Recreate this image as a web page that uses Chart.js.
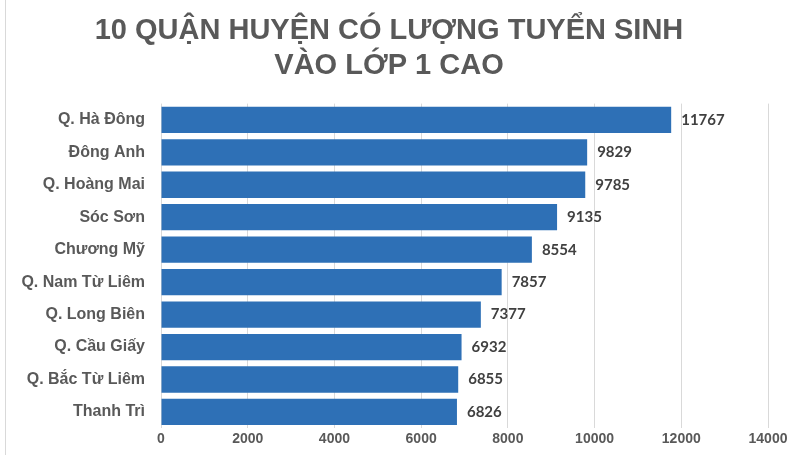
<!DOCTYPE html>
<html>
<head>
<meta charset="utf-8">
<script src="https://cdn.jsdelivr.net/npm/chart.js@4"></script>
<style>
  body { margin: 0; background: #fff; }
  #wrap { width: 809px; height: 455px; position: relative; }
  #wrap:before { content: ""; position: absolute; left: 5px; top: 0; bottom: 0; border-left: 1px solid #d9d9d9; }
</style>
</head>
<body>
<div id="wrap"><canvas id="chart" width="809" height="455"></canvas></div>
<script>
const districts = ["Q. Hà Đông", "Đông Anh", "Q. Hoàng Mai", "Sóc Sơn", "Chương Mỹ",
  "Q. Nam Từ Liêm", "Q. Long Biên", "Q. Cầu Giấy", "Q. Bắc Từ Liêm", "Thanh Trì"];
const students = [11767, 9829, 9785, 9135, 8554, 7857, 7377, 6932, 6855, 6826];
const titleLines = ["10 QUẬN HUYỆN CÓ LƯỢNG TUYỂN SINH", "VÀO LỚP 1 CAO"];

// numbers next to the bars
const valueLabels = {
  id: "valueLabels",
  afterDatasetsDraw(chart) {
    let ctx = chart.ctx;
    let meta = chart.getDatasetMeta(0);
    ctx.save();
    ctx.font = "bold 15px Lato, 'Open Sans', sans-serif";
    ctx.fillStyle = "#404040";
    ctx.textBaseline = "middle";
    meta.data.forEach((bar, i) => {
      ctx.fillText(students[i], bar.x + 10, bar.y);
    });
    ctx.restore();
  }
};

let ctx = document.getElementById("chart").getContext("2d");
const chart = new Chart(ctx, {
  type: "bar",
  data: {
    labels: districts,
    datasets: [{
      data: students,
      backgroundColor: "#2e70b6",
      categoryPercentage: 0.81,
      barPercentage: 1
    }]
  },
  plugins: [valueLabels],
  options: {
    indexAxis: "y",
    responsive: false,
    animation: false,
    layout: { padding: { left: 10, right: 41, bottom: 4 } },
    plugins: {
      legend: { display: false },
      tooltip: { enabled: false },
      title: {
        display: true,
        text: titleLines,
        color: "#595959",
        font: { family: "Arial, 'Liberation Sans', sans-serif", size: 29, weight: "bold" },
        lineHeight: 1.05,
        padding: { top: 14, bottom: 20 }
      }
    },
    scales: {
      x: {
        min: 0,
        max: 14000,
        ticks: {
          stepSize: 2000,
          callback: v => String(v),
          color: "#595959",
          font: { family: "Arial, 'Liberation Sans', sans-serif", size: 14, weight: "bold" }
        },
        grid: { color: "#d9d9d9", drawTicks: false },
        border: { display: false }
      },
      y: {
        afterFit(scale) { scale.width = 151; },
        ticks: {
          color: "#595959",
          padding: 8,
          font: { family: "Arial, 'Liberation Sans', sans-serif", size: 16, weight: "bold" }
        },
        grid: { display: false },
        border: { display: false }
      }
    }
  }
});
</script>
</body>
</html>
